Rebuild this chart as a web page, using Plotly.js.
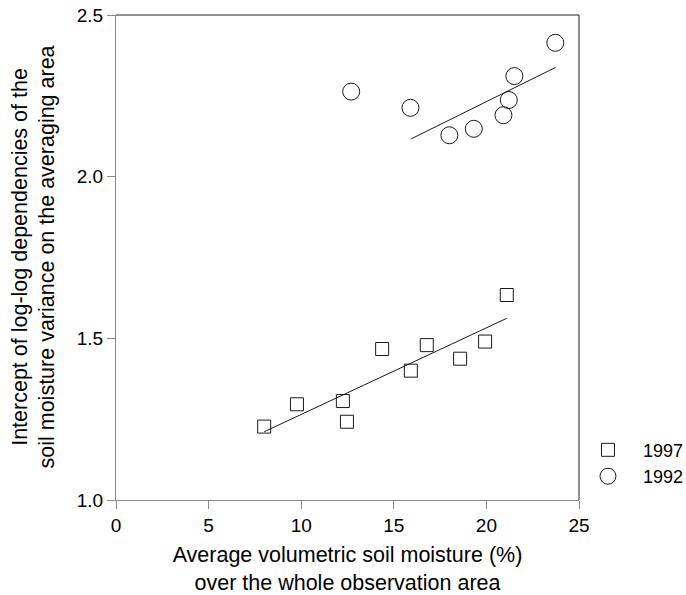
<!DOCTYPE html>
<html>
<head>
<meta charset="utf-8">
<script src="https://cdn.plot.ly/plotly-3.0.1.min.js"></script>
<style>html,body{margin:0;padding:0;background:#fff;}#chart{width:686px;height:595px;}</style>
</head>
<body>
<div id="chart"></div>
<script>
// 1997 series
var x1997 = [8.00, 9.77, 12.25, 12.47, 14.37, 15.92, 16.78, 18.58, 19.93, 21.10];
var y1997 = [1.227, 1.296, 1.306, 1.242, 1.467, 1.400, 1.479, 1.437, 1.490, 1.634];
// 1992 series
var x1992 = [12.70, 15.90, 18.00, 19.32, 20.92, 21.21, 21.51, 23.72];
var y1992 = [2.263, 2.213, 2.128, 2.148, 2.190, 2.237, 2.311, 2.414];
// fitted lines (end points)
var fit1997x = [8.00, 21.10];
var fit1997y = [1.211, 1.562];
var fit1992x = [15.94, 23.74];
var fit1992y = [2.117, 2.338];
// ticks
var xTicks = [0, 5, 10, 15, 20, 25];
var yTicks = [1.0, 1.5, 2.0, 2.5];
var yTickText = ['1.0', '1.5', '2.0', '2.5'];

var FONT = 'Arial, "Liberation Sans", Helvetica, sans-serif';
var ink = '#1a1a1a';

var traces = [
  {x: fit1997x, y: fit1997y, mode: 'lines', line: {color: ink, width: 1}, showlegend: false, hoverinfo: 'skip'},
  {x: fit1992x, y: fit1992y, mode: 'lines', line: {color: ink, width: 1}, showlegend: false, hoverinfo: 'skip'},
  {x: x1997, y: y1997, mode: 'markers', name: '1997',
   marker: {symbol: 'square-open', size: 13, color: ink, line: {width: 1, color: ink}}},
  {x: x1992, y: y1992, mode: 'markers', name: '1992',
   marker: {symbol: 'circle-open', size: 17, color: ink, line: {width: 1, color: ink}}}
];

var layout = {
  width: 686, height: 595,
  margin: {l: 116, r: 107, t: 15, b: 95, autoexpand: false},
  paper_bgcolor: '#fff', plot_bgcolor: '#fff',
  font: {family: FONT, size: 19, color: '#000'},
  showlegend: true,
  legend: {x: 0.987, xanchor: 'left', y: 0.141, yanchor: 'top', bgcolor: 'rgba(0,0,0,0)',
           font: {family: FONT, size: 18, color: '#000'}, itemwidth: 60, tracegroupgap: 0},
  xaxis: {
    range: [0, 25], tickvals: xTicks, ticktext: xTicks.map(String),
    showgrid: false, zeroline: false, showline: true, linecolor: '#888', linewidth: 1,
    ticks: 'outside', ticklen: 8, tickcolor: '#888', tickwidth: 1,
    tickfont: {family: FONT, size: 19, color: '#000'},
    title: {text: 'Average volumetric soil moisture (%)<br>over the whole observation area',
            font: {family: FONT, size: 21.5, color: '#000'}}
  },
  yaxis: {
    range: [1.0, 2.5], tickvals: yTicks, ticktext: yTickText,
    showgrid: false, zeroline: false, showline: true, linecolor: '#888', linewidth: 1,
    ticks: 'outside', ticklen: 8, tickcolor: '#888', tickwidth: 1,
    tickfont: {family: FONT, size: 19, color: '#000'}
  },
  annotations: [
    {text: 'Intercept of log-log dependencies of the<br>soil moisture variance on the averaging area',
     xref: 'paper', yref: 'paper', x: 0, y: 0.5, xshift: -83, xanchor: 'center', yanchor: 'middle',
     textangle: -90, showarrow: false, font: {family: FONT, size: 21.5, color: '#000'}}
  ],
  shapes: [
    {type: 'line', xref: 'paper', yref: 'paper', x0: 0, x1: 1, y0: 1, y1: 1, line: {color: '#222', width: 1}},
    {type: 'line', xref: 'paper', yref: 'paper', x0: 1, x1: 1, y0: 0, y1: 1, line: {color: '#222', width: 1}}
  ]
};

Plotly.newPlot('chart', traces, layout, {displayModeBar: false, staticPlot: true});
</script>
</body>
</html>
